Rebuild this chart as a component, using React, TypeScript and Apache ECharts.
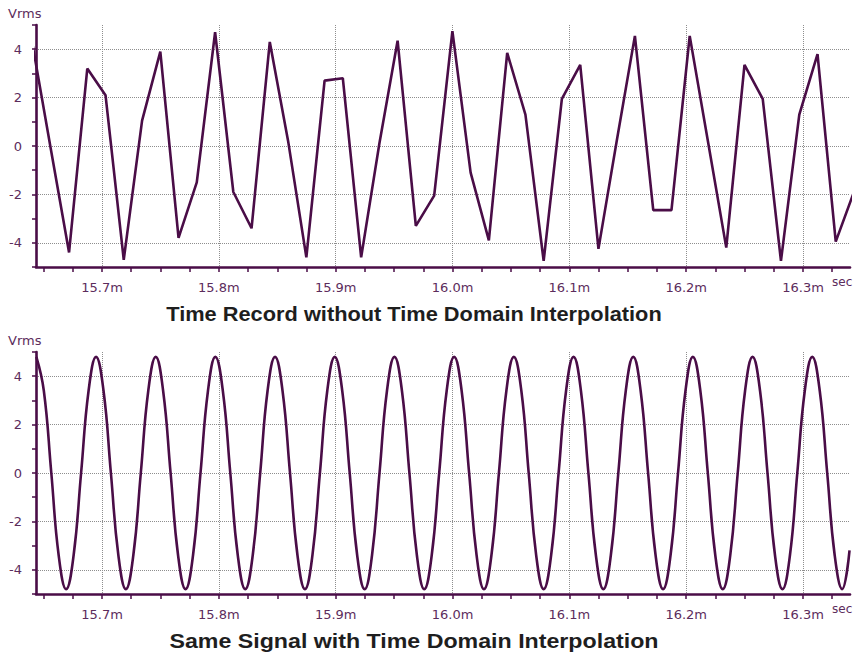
import React, { useEffect, useRef } from "react";
import * as echarts from "echarts";

// Time in milliseconds, amplitude in Vrms
const topTimes = [
  15.6405, 15.6561, 15.6718, 15.6874, 15.703, 15.7186, 15.7343, 15.7499, 15.7655, 15.7811,
  15.7968, 15.8124, 15.828, 15.8436, 15.8593, 15.8749, 15.8905, 15.9061, 15.9218, 15.9374,
  15.953, 15.9686, 15.9843, 15.9999, 16.0155, 16.0311, 16.0468, 16.0624, 16.078, 16.0936,
  16.1093, 16.1249, 16.1405, 16.1561, 16.1718, 16.1874, 16.203, 16.2186, 16.2343, 16.2499,
  16.2655, 16.2811, 16.2968, 16.3124, 16.328, 16.3436,
];
const topValues = [
  4.2, -0.1, -4.4, 3.2, 2.1, -4.7, 1.05, 3.9, -3.8, -1.5,
  4.7, -1.9, -3.4, 4.3, 0.2, -4.6, 2.7, 2.8, -4.6, 0.1,
  4.35, -3.3, -2.05, 4.75, -1.1, -3.9, 3.85, 1.3, -4.75, 1.95,
  3.35, -4.25, 0.2, 4.55, -2.65, -2.65, 4.55, 0.2, -4.2, 3.35,
  1.95, -4.75, 1.3, 3.8, -3.95, -1.9,
];

const bottomTimes = [
  15.6438, 15.6502, 15.6566, 15.6629, 15.6693, 15.6757, 15.6821, 15.6885,
  15.6949, 15.7013, 15.7076, 15.714, 15.7204, 15.7268, 15.7332, 15.7396,
  15.746, 15.7523, 15.7587, 15.7651, 15.7715, 15.7779, 15.7843, 15.7907,
  15.797, 15.8034, 15.8098, 15.8162, 15.8226, 15.829, 15.8354, 15.8417,
  15.8481, 15.8545, 15.8609, 15.8673, 15.8737, 15.8801, 15.8865, 15.8928,
  15.8992, 15.9056, 15.912, 15.9184, 15.9248, 15.9311, 15.9375, 15.9439,
  15.9503, 15.9567, 15.9631, 15.9695, 15.9758, 15.9822, 15.9886, 15.995,
  16.0014, 16.0078, 16.0142, 16.0206, 16.0269, 16.0333, 16.0397, 16.0461,
  16.0525, 16.0589, 16.0652, 16.0716, 16.078, 16.0844, 16.0908, 16.0972,
  16.1036, 16.1099, 16.1163, 16.1227, 16.1291, 16.1355, 16.1419, 16.1483,
  16.1547, 16.161, 16.1674, 16.1738, 16.1802, 16.1866, 16.193, 16.1994,
  16.2057, 16.2121, 16.2185, 16.2249, 16.2313, 16.2377, 16.2441, 16.2504,
  16.2568, 16.2632, 16.2696, 16.276, 16.2824, 16.2888, 16.2951, 16.3015,
  16.3079, 16.3143, 16.3207, 16.3271, 16.3335, 16.3398,
];
const bottomValues = [
  4.8, 3.4, 0, -3.4, -4.8, -3.4, 0, 3.4,
  4.8, 3.4, 0, -3.4, -4.8, -3.4, 0, 3.4,
  4.8, 3.4, 0, -3.4, -4.8, -3.4, 0, 3.4,
  4.8, 3.4, 0, -3.4, -4.8, -3.4, 0, 3.4,
  4.8, 3.4, 0, -3.4, -4.8, -3.4, 0, 3.4,
  4.8, 3.4, 0, -3.4, -4.8, -3.4, 0, 3.4,
  4.8, 3.4, 0, -3.4, -4.8, -3.4, 0, 3.4,
  4.8, 3.4, 0, -3.4, -4.8, -3.4, 0, 3.4,
  4.8, 3.4, 0, -3.4, -4.8, -3.4, 0, 3.4,
  4.8, 3.4, 0, -3.4, -4.8, -3.4, 0, 3.4,
  4.8, 3.4, 0, -3.4, -4.8, -3.4, 0, 3.4,
  4.8, 3.4, 0, -3.4, -4.8, -3.4, 0, 3.4,
  4.8, 3.4, 0, -3.4, -4.8, -3.4, 0, 3.4,
  4.8, 3.4, 0, -3.4, -4.8, -3.2,
];

const titles = [
  "Time Record without Time Domain Interpolation",
  "Same Signal with Time Domain Interpolation",
];
const titleScaleX = [1.09, 1.16];
const yUnit = "Vrms";
const xUnit = "sec";

const PURPLE = "#4a0d47";
const LABEL = "#5c2c5c";
const GRID_GRAY = "#8e8e8e";
const FONT = "DejaVu Sans";

const X_MIN = 15.6435;
const X_MAX = 16.3402;
const PLOT_LEFT = 36;
const PLOT_WIDTH = 814;
const PLOT_HEIGHT = 242;
const PX_PER_MS = PLOT_WIDTH / (X_MAX - X_MIN);
const xPx = (t: number) => PLOT_LEFT + (t - X_MIN) * PX_PER_MS;

function buildPanel(T: number, base: number) {
  const grids = [
    { left: PLOT_LEFT, top: T, width: PLOT_WIDTH, height: PLOT_HEIGHT },
    { left: xPx(15.65), top: T, width: xPx(16.325) - xPx(15.65), height: PLOT_HEIGHT },
    { left: xPx(15.7), top: T, width: xPx(16.3) - xPx(15.7), height: PLOT_HEIGHT },
    { left: PLOT_LEFT, top: T + PLOT_HEIGHT / 10, width: PLOT_WIDTH, height: (PLOT_HEIGHT * 8) / 10 },
  ];
  const hidden = { show: false };
  const xAxes = [
    {
      gridIndex: base, type: "value", min: X_MIN, max: X_MAX,
      axisLine: { show: true, onZero: false, lineStyle: { color: PURPLE, width: 2.6 } },
      axisTick: hidden, axisLabel: hidden, splitLine: hidden,
    },
    {
      gridIndex: base + 1, type: "value", min: 15.65, max: 16.325, interval: 0.025,
      axisLine: { show: false, onZero: false },
      axisTick: { show: true, length: 5, lineStyle: { color: PURPLE, width: 1.5 } },
      axisLabel: hidden, splitLine: hidden,
    },
    {
      gridIndex: base + 2, type: "value", min: 15.7, max: 16.3, interval: 0.1,
      axisLine: { show: false, onZero: false }, axisTick: hidden,
      axisLabel: {
        show: true, margin: 14, color: LABEL, fontSize: 13, fontFamily: FONT,
        formatter: (v: number) => v.toFixed(1) + "m",
      },
      splitLine: { show: true, lineStyle: { color: GRID_GRAY, type: "dotted", width: 1 } },
    },
    { gridIndex: base + 3, type: "value", min: X_MIN, max: X_MAX, show: false },
  ];
  const yAxes = [
    {
      gridIndex: base, type: "value", min: -5, max: 5, interval: 1,
      axisLine: { show: true, onZero: false, lineStyle: { color: PURPLE, width: 2.6 } },
      axisTick: { show: true, length: 4, lineStyle: { color: PURPLE, width: 1.5 } },
      axisLabel: hidden, splitLine: hidden,
    },
    { gridIndex: base + 1, type: "value", min: -5, max: 5, show: false },
    { gridIndex: base + 2, type: "value", min: -5, max: 5, show: false },
    {
      gridIndex: base + 3, type: "value", min: -4, max: 4, interval: 2,
      axisLine: { show: false, onZero: false }, axisTick: hidden,
      axisLabel: { show: true, margin: 14, color: LABEL, fontSize: 13, fontFamily: FONT },
      splitLine: { show: true, lineStyle: { color: GRID_GRAY, type: "dotted", width: 1 } },
    },
  ];
  return { grids, xAxes, yAxes };
}

export default function App() {
  const ref = useRef<HTMLDivElement>(null);
  useEffect(() => {
    if (!ref.current) return;
    const chart = echarts.init(ref.current, undefined, { renderer: "svg" });
    const panelTops = [25, 352];
    const p0 = buildPanel(panelTops[0], 0);
    const p1 = buildPanel(panelTops[1], 4);
    const lineSeries = (times: number[], values: number[], axisIdx: number, smooth: number | boolean) => ({
      type: "line",
      xAxisIndex: axisIdx,
      yAxisIndex: axisIdx,
      data: times.map((t, i) => [t, values[i]]),
      showSymbol: false,
      symbol: "none",
      smooth,
      clip: true,
      lineStyle: { color: PURPLE, width: 2.6 },
      z: 5,
    });
    const graphics: any[] = [];
    panelTops.forEach((T, i) => {
      graphics.push({
        type: "text", left: 8, top: T - 18,
        style: { text: yUnit, fill: LABEL, font: `13px "${FONT}"` },
      });
      graphics.push({
        type: "text", left: 832, top: T + PLOT_HEIGHT + 9,
        style: { text: xUnit, fill: LABEL, font: `12px "${FONT}"` },
      });
      graphics.push({
        type: "text", x: 414, y: T + PLOT_HEIGHT + 47, scaleX: titleScaleX[i],
        style: {
          text: titles[i], fill: "#1e1e1e", font: `bold 20px "Liberation Sans", Arial, sans-serif`,
          textAlign: "center", textVerticalAlign: "middle",
        },
      });
    });
    chart.setOption({
      animation: false,
      backgroundColor: "#ffffff",
      grid: [...p0.grids, ...p1.grids],
      xAxis: [...p0.xAxes, ...p1.xAxes],
      yAxis: [...p0.yAxes, ...p1.yAxes],
      series: [
        lineSeries(topTimes, topValues, 0, false),
        lineSeries(bottomTimes, bottomValues, 4, 0.45),
      ],
      graphic: graphics,
    });
    return () => chart.dispose();
  }, []);
  return (
    <div
      ref={ref}
      style={{ position: "fixed", left: 0, top: 0, width: 854, height: 654, background: "#fff" }}
    />
  );
}
